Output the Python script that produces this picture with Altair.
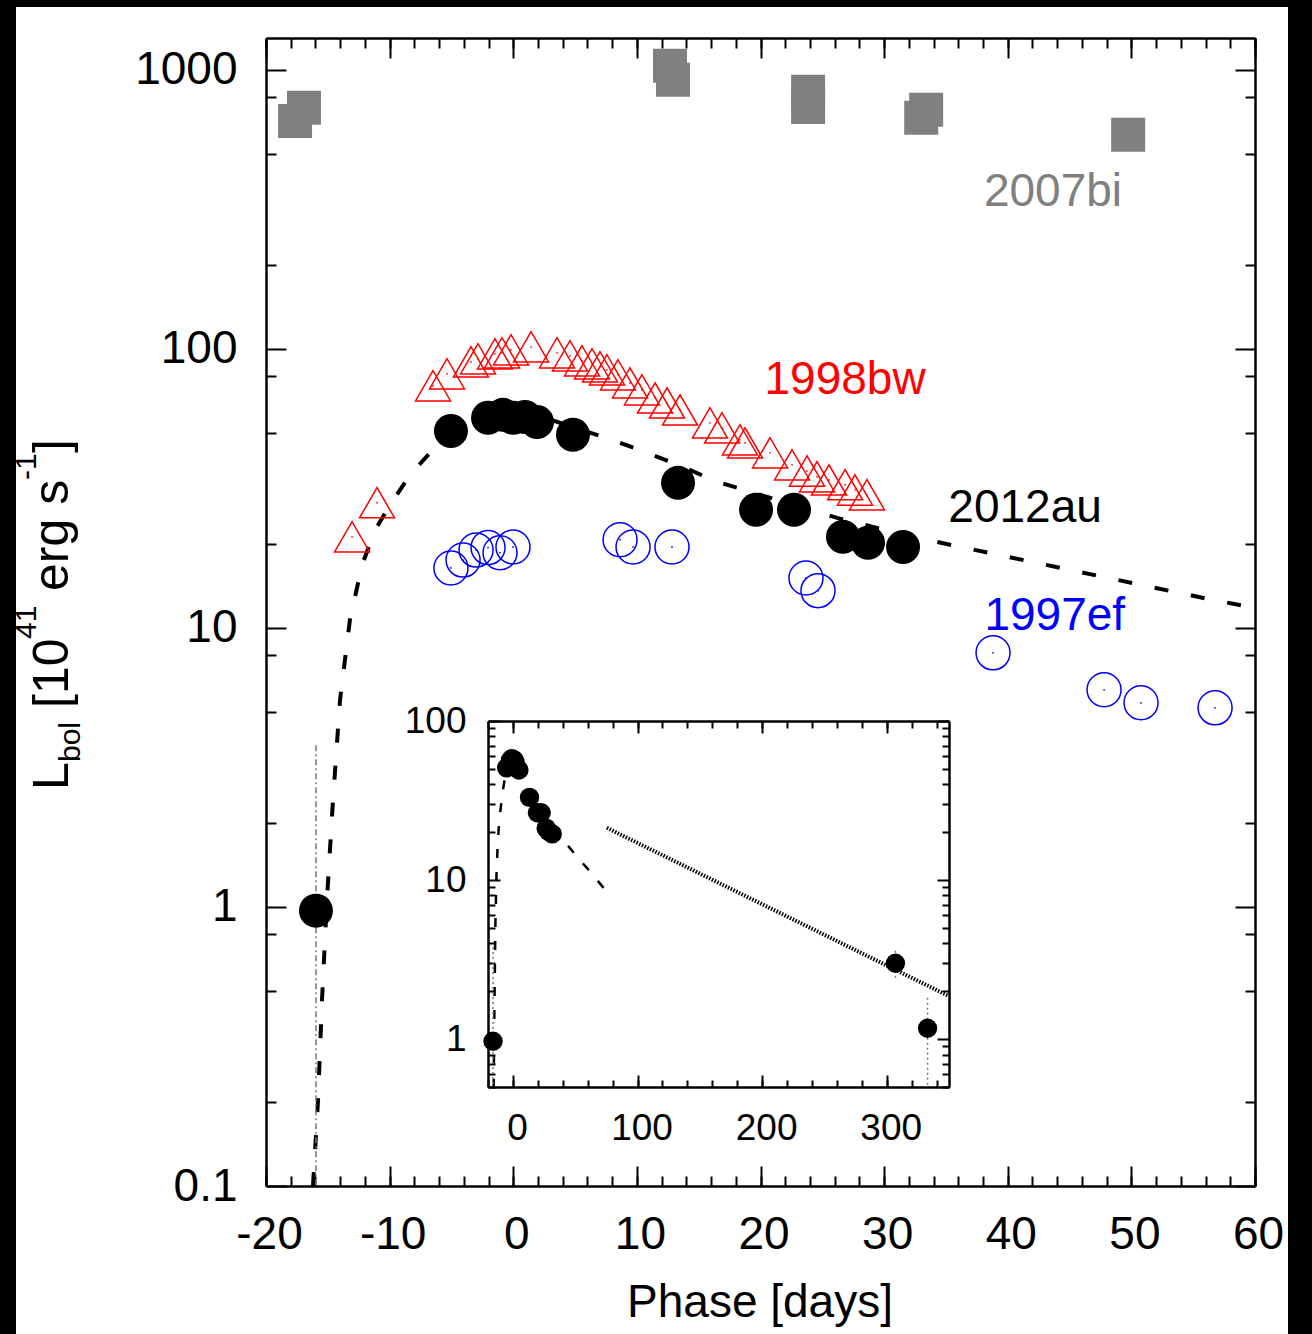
import altair as alt
import pandas as pd

FONT = "Liberation Sans"

# ---------------- data ----------------
# SN 2007bi (grey squares)
bi_phase = [-17.65, -16.93, 12.68, 12.92, 23.85, 23.85, 33.0, 33.4, 49.74]
bi_L = [656, 731, 1033, 921, 834, 736, 673, 719, 585]

# SN 1998bw (red open triangles)
bw_phase = [-13.04, -11.02, -6.49, -5.36, -3.42, -2.85, -1.48, -0.91, -0.18, 1.44,
            3.54, 4.59, 5.56, 6.37, 7.02, 7.58, 8.47, 9.44, 10.41, 11.47, 12.44,
            13.49, 15.91, 16.89, 18.34, 18.75, 20.77, 22.55, 23.76, 24.57, 25.54,
            26.84, 27.64, 28.61]
bw_L = [21.2, 28.1, 73.7, 81.4, 89.8, 92.1, 96.0, 96.8, 99.2, 101.7,
        96.8, 94.4, 90.6, 88.4, 86.2, 84.1, 80.7, 75.5, 71.3, 66.7, 64.0,
        60.4, 54.3, 52.1, 47.2, 46.0, 42.4, 38.4, 36.5, 34.8, 33.9,
        32.6, 31.2, 30.0]

# SN 1997ef (blue open circles)
ef_phase = [-5.04, -4.06, -3.01, -2.04, -1.07, -0.02, 8.64, 9.69, 12.84, 23.68,
            24.65, 38.81, 47.79, 50.78, 56.77]
ef_L = [16.4, 17.5, 19.0, 19.4, 18.6, 19.5, 20.7, 19.5, 19.5, 15.1,
        13.6, 8.14, 6.0, 5.39, 5.17]

# SN 2012au (black filled circles)
au_phase = [-15.96, -5.04, -2.04, -0.83, -0.02, 0.95, 1.92, 4.83, 13.33, 19.64,
            22.71, 26.67, 28.70, 31.53, 307.0, 332.8]
au_L = [0.97, 50.8, 56.6, 58.0, 56.6, 57.0, 54.7, 49.2, 33.1, 26.5,
        26.5, 21.2, 20.2, 19.5, 3.0, 1.17]

# 2012au error bars
err_phase = [-15.96, 307.0, 332.8]
err_hi = [3.8, 3.6, 1.82]
err_lo = [0.1, 2.4, 0.1]

# model light curve (dashed)
model_phase = [-16.2, -15.79, -15.47, -15.07, -14.58, -14.01, -13.21, -12.23, -11.18,
               -9.97, -8.35, -6.17, -3.90, -1.48, 0.55, 2.57, 4.59, 7.02, 10.01,
               13.33, 16.48, 26.19, 29.42, 32.74, 56.2, 59.5, 79.0]
model_L = [0.1, 0.203, 0.464, 1.06, 2.42, 5.53, 10.7, 16.8, 22.4,
           27.6, 35.3, 45.2, 53.3, 58.0, 58.0, 56.6, 52.8, 48.8, 43.8,
           38.4, 33.4, 24.8, 22.8, 21.0, 12.7, 11.9, 7.8]

# late-time tail (dotted, inset)
tail_phase = [75.4, 349.6]
tail_L = [21.3, 1.87]

# text labels
lab_text = ["2007bi", "1998bw", "2012au", "1997ef"]
lab_phase = [43.66, 26.84, 41.4, 43.8]
lab_L = [365, 77.4, 26.9, 11.0]
lab_color = ["#808080", "#ff0000", "#000000", "#0000ff"]

# tick values
main_x_major = list(range(-20, 61, 10))
main_x_minor = list(range(-20, 61, 2))
main_y_major = [0.1, 1, 10, 100, 1000]
main_y_minor = [0.2, 0.5, 0.8, 2, 5, 8, 20, 50, 80, 200, 500, 800]
ins_x_major = [0, 100, 200, 300]
ins_x_minor = list(range(-20, 341, 20))
ins_y_major = [1, 10, 100]
ins_y_minor = [0.5, 0.6, 0.7, 0.8, 0.9, 2, 3, 4, 5, 6, 7, 8, 9,
               20, 30, 40, 50, 60, 70, 80, 90]

# ---------------- tables ----------------
bi = pd.DataFrame({"d": bi_phase, "L": bi_L})
bw = pd.DataFrame({"d": bw_phase, "L": bw_L})
ef = pd.DataFrame({"d": ef_phase, "L": ef_L})
au = pd.DataFrame({"d": au_phase, "L": au_L})
err = pd.DataFrame({"d": err_phase, "L": err_hi, "L2": err_lo})
model = pd.DataFrame({"d": model_phase, "L": model_L})
tail = pd.DataFrame({"d": tail_phase, "L": tail_L})
labs = pd.DataFrame({"d": lab_phase, "L": lab_L, "t": lab_text, "c": lab_color})
one = pd.DataFrame({"d": [0.0], "L": [1.0]})

# ---------------- geometry ----------------
W, H = 989, 1148
PAD = {"left": 266, "top": 38, "right": 57, "bottom": 148}

xs_main = alt.Scale(domain=[-20, 60], nice=False, zero=False)
ys_main = alt.Scale(type="log", domain=[0.1, 1300], nice=False)

IX0, IX1 = 222, 683      # inset x range (px, relative to plot)
IY0, IY1 = 1049, 683     # inset y range (bottom, top)
xs_ins = alt.Scale(domain=[-20, 350], nice=False, zero=False, range=[IX0, IX1], clamp=True)
ys_ins = alt.Scale(type="log", domain=[0.5, 100], nice=False, range=[IY0, IY1], clamp=True)

HYPHEN = "replace(datum.label, '\u2212', '-')"


def ax(orient, values, tick=0, labels=False, domain=False, offset=0, size=46, pad=0, fmt=None,
       loff=0, expr=None):
    kw = dict(orient=orient, values=values, grid=False, title=None, labels=labels,
              domain=domain, offset=offset, tickColor="black", tickWidth=2,
              domainColor="black", domainWidth=2.5)
    if tick:
        kw.update(ticks=True, tickSize=tick)
    else:
        kw.update(ticks=False, tickSize=0)
    if labels:
        kw.update(labelFont=FONT, labelFontSize=size, labelPadding=pad, labelColor="black",
                  labelFlush=False, labelOverlap=False, labelOffset=loff)
    if fmt:
        kw["format"] = fmt
    if expr:
        kw["labelExpr"] = expr
    return alt.Axis(**kw)


def axis_layer(xs, ys, xaxis, yaxis):
    return alt.Chart(one).mark_point(opacity=0).encode(
        x=alt.X("d:Q", scale=xs, axis=xaxis),
        y=alt.Y("L:Q", scale=ys, axis=yaxis),
    )


def enc(chart, xs, ys):
    return chart.encode(x=alt.X("d:Q", scale=xs, axis=None), y=alt.Y("L:Q", scale=ys, axis=None))


# ---------------- main panel ----------------
main_axes = [
    axis_layer(xs_main, ys_main,
               ax("bottom", main_x_major, labels=True, domain=True, size=46, pad=26, fmt="d",
                  loff=3, expr=HYPHEN),
               ax("left", main_y_major, labels=True, domain=True, size=46, pad=29, fmt="~g")),
    axis_layer(xs_main, ys_main,
               ax("top", main_x_major, tick=20, offset=-H),
               ax("right", main_y_major, tick=20, offset=-W)),
    axis_layer(xs_main, ys_main,
               ax("top", main_x_minor, tick=10, offset=-H),
               ax("right", main_y_minor, tick=10, offset=-W)),
    axis_layer(xs_main, ys_main,
               ax("bottom", main_x_major, tick=20, offset=-H, domain=True),
               ax("left", main_y_major, tick=20, offset=-W, domain=True)),
    axis_layer(xs_main, ys_main,
               ax("bottom", main_x_minor, tick=10, offset=-H),
               ax("left", main_y_minor, tick=10, offset=-W)),
]

main_marks = [
    enc(alt.Chart(model).mark_line(color="black", strokeWidth=4, strokeDash=[14, 23], clip=True),
        xs_main, ys_main),
    alt.Chart(err).mark_rule(color="#777777", strokeWidth=1.5, strokeDash=[6, 3, 2, 3], clip=True).encode(
        x=alt.X("d:Q", scale=xs_main, axis=None),
        y=alt.Y("L:Q", scale=ys_main, axis=None),
        y2="L2:Q"),
    enc(alt.Chart(bi).mark_square(color="#808080", opacity=1, size=1156, clip=True), xs_main, ys_main),
    enc(alt.Chart(bw).mark_point(shape="triangle-up", color="#ff0000", filled=False, size=1225,
                                 strokeWidth=1.5, opacity=1, clip=True), xs_main, ys_main),
    enc(alt.Chart(bw).mark_circle(color="#ff0000", size=3, opacity=1, clip=True), xs_main, ys_main),
    enc(alt.Chart(ef).mark_point(shape="circle", color="#0000ff", filled=False, size=1156,
                                 strokeWidth=1.5, opacity=1, clip=True), xs_main, ys_main),
    enc(alt.Chart(ef).mark_circle(color="#0000ff", size=3, opacity=1, clip=True), xs_main, ys_main),
    enc(alt.Chart(au).mark_circle(color="black", size=1156, opacity=1, clip=True), xs_main, ys_main),
    alt.Chart(labs).mark_text(font=FONT, fontSize=46, align="center", baseline="middle").encode(
        x=alt.X("d:Q", scale=xs_main, axis=None),
        y=alt.Y("L:Q", scale=ys_main, axis=None),
        text="t:N",
        color=alt.Color("c:N", scale=None, legend=None)),
]

# axis titles (pixel placement relative to the plot origin)
onerow = pd.DataFrame({"k": [0]})
OX, OY = PAD["left"], PAD["top"]
title_pieces = [
    ("L", 50, 68, 790),
    ("bol", 30, 80, 762),
    ("[10", 50, 68, 708),
    ("41", 30, 36, 639),
    ("erg s", 50, 68, 591),
    ("-1", 30, 36, 480),
    ("]", 50, 68, 453),
]
decor = []
for txt, fs, bx, sy in title_pieces:
    decor.append(alt.Chart(onerow).mark_text(font=FONT, fontSize=fs, angle=270, align="left",
                                              baseline="alphabetic", color="black", text=txt).encode(
        x=alt.value(bx - OX), y=alt.value(sy - OY)))
decor.append(alt.Chart(onerow).mark_text(font=FONT, fontSize=46, align="center", baseline="middle",
                                          color="black", text="Phase [days]").encode(
    x=alt.value(760 - OX), y=alt.value(1303 - OY)))
# black frame of the picture
for x0, x1, y0, y1 in [(0, 1312, 0, 7), (0, 16, 0, 1334), (1288, 1312, 0, 1334)]:
    decor.append(alt.Chart(onerow).mark_rect(color="black").encode(
        x=alt.value(x0 - OX), x2=alt.value(x1 - OX), y=alt.value(y0 - OY), y2=alt.value(y1 - OY)))

main_layer = alt.layer(*main_axes, *main_marks, *decor).resolve_axis(x="independent", y="independent")

# ---------------- inset ----------------
ins_axes = [
    axis_layer(xs_ins, ys_ins,
               ax("bottom", ins_x_major, labels=True, domain=True, size=37, pad=23,
                  offset=IY0 - H, fmt="d", loff=4),
               ax("left", ins_y_major, labels=True, domain=True, size=37, pad=22,
                  offset=-IX0, fmt="~g")),
    axis_layer(xs_ins, ys_ins,
               ax("top", ins_x_major, tick=12, offset=-IY0),
               ax("right", ins_y_major, tick=12, offset=IX0 - W)),
    axis_layer(xs_ins, ys_ins,
               ax("top", ins_x_minor, tick=7, offset=-IY0),
               ax("right", ins_y_minor, tick=7, offset=IX0 - W)),
    axis_layer(xs_ins, ys_ins,
               ax("bottom", ins_x_major, tick=12, offset=IY1 - H, domain=True),
               ax("left", ins_y_major, tick=12, offset=-IX1, domain=True)),
    axis_layer(xs_ins, ys_ins,
               ax("bottom", ins_x_minor, tick=7, offset=IY1 - H),
               ax("left", ins_y_minor, tick=7, offset=-IX1)),
]
ins_marks = [
    enc(alt.Chart(model).mark_line(color="black", strokeWidth=2.5, strokeDash=[9, 14]), xs_ins, ys_ins),
    enc(alt.Chart(tail).mark_line(color="black", strokeWidth=4, strokeDash=[1.5, 1.5]), xs_ins, ys_ins),
    alt.Chart(err).mark_rule(color="#777777", strokeWidth=1.5, strokeDash=[2, 3]).encode(
        x=alt.X("d:Q", scale=xs_ins, axis=None),
        y=alt.Y("L:Q", scale=ys_ins, axis=None),
        y2="L2:Q"),
    enc(alt.Chart(au).mark_circle(color="black", size=375, opacity=1), xs_ins, ys_ins),
]
ins_layer = alt.layer(*ins_axes, *ins_marks).resolve_axis(x="independent", y="independent")

chart = alt.layer(main_layer, ins_layer).resolve_scale(
    x="independent", y="independent"
).resolve_axis(
    x="independent", y="independent"
).properties(
    width=W, height=H, padding=PAD,
    autosize=alt.AutoSizeParams(type="none"),
    background="white",
).configure_view(stroke=None)

chart.save("out.html", embed_options={"renderer": "svg", "actions": False})
